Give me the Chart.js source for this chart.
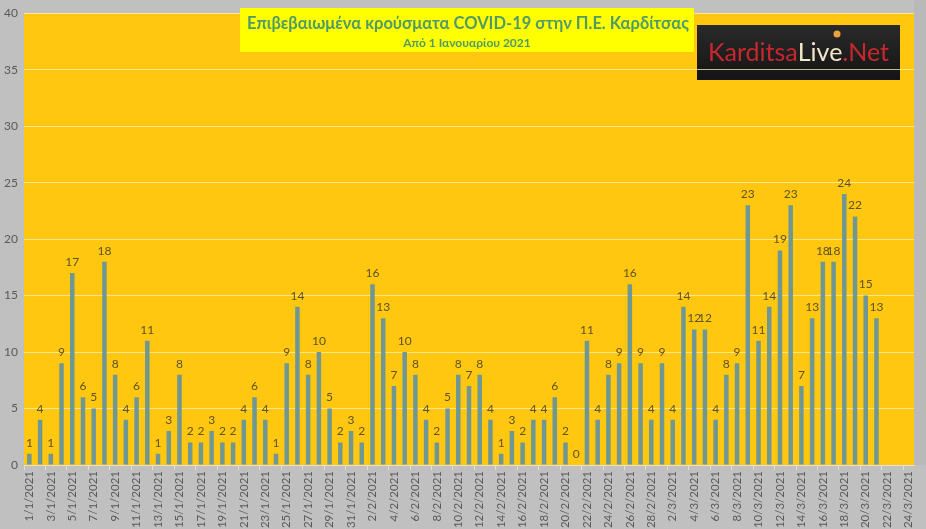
<!DOCTYPE html>
<html>
<head>
<meta charset="utf-8">
<script src="https://cdn.jsdelivr.net/npm/chart.js@4.4.0/dist/chart.umd.min.js"></script>
<style>
  html, body { margin: 0; padding: 0; background: #c0c0c0; }
  #wrap { width: 926px; height: 529px; }
</style>
</head>
<body>
<div id="wrap"><canvas id="grafico"></canvas></div>
<script>
// === DATOS ===
const fechas = [
  "1/1/2021","2/1/2021","3/1/2021","4/1/2021","5/1/2021","6/1/2021","7/1/2021","8/1/2021","9/1/2021","10/1/2021",
  "11/1/2021","12/1/2021","13/1/2021","14/1/2021","15/1/2021","16/1/2021","17/1/2021","18/1/2021","19/1/2021","20/1/2021",
  "21/1/2021","22/1/2021","23/1/2021","24/1/2021","25/1/2021","26/1/2021","27/1/2021","28/1/2021","29/1/2021","30/1/2021","31/1/2021",
  "1/2/2021","2/2/2021","3/2/2021","4/2/2021","5/2/2021","6/2/2021","7/2/2021","8/2/2021","9/2/2021","10/2/2021",
  "11/2/2021","12/2/2021","13/2/2021","14/2/2021","15/2/2021","16/2/2021","17/2/2021","18/2/2021","19/2/2021","20/2/2021",
  "21/2/2021","22/2/2021","23/2/2021","24/2/2021","25/2/2021","26/2/2021","27/2/2021","28/2/2021",
  "1/3/2021","2/3/2021","3/3/2021","4/3/2021","5/3/2021","6/3/2021","7/3/2021","8/3/2021","9/3/2021","10/3/2021",
  "11/3/2021","12/3/2021","13/3/2021","14/3/2021","15/3/2021","16/3/2021","17/3/2021","18/3/2021","19/3/2021","20/3/2021",
  "21/3/2021","22/3/2021","23/3/2021","24/3/2021"
];

const casosEnero = [1,4,1,9,17,6,5,18,8,4, 6,11,1,3,8,2,2,3,2,2, 4,6,4,1,9,14,8,10,5,2, 3];
const casosFebrero = [2,16,13,7,10,8,4,2,5,8, 7,8,4,1,3,2,4,4,6,2, 0,11,4,8,9,16,9,4];
const casosMarzo = [9,4,14,12,12,4,8,9,23,11, 14,19,23,7,13,18,18,24,22,15, 13,null,null,null];

const yTicks = [0,5,10,15,20,25,30,35,40];

const titulo = "Επιβεβαιωμένα κρούσματα COVID-19 στην Π.Ε. Καρδίτσας";
const subtitulo = "Από 1 Ιανουαρίου 2021";

const casos = casosEnero.concat(casosFebrero, casosMarzo);

const FUENTE = "Lato, 'Noto Sans', sans-serif";

// fondo del area y logo (antes de la grilla)
const fondoPlugin = {
  id: "fondo",
  beforeDraw(chart) {
    const { ctx, chartArea: a } = chart;
    ctx.save();
    ctx.fillStyle = "#c0c0c0";
    ctx.fillRect(0, 0, chart.width, chart.height);
    ctx.fillStyle = "#b9b9b9";
    ctx.fillRect(a.right, 0, chart.width - a.right, a.bottom);
    ctx.fillStyle = "#ffc70f";
    ctx.fillRect(a.left, a.top, a.right - a.left, a.bottom - a.top);

    // logo
    const g = ctx.createLinearGradient(0, 25, 0, 80);
    g.addColorStop(0, "#2a2a2a");
    g.addColorStop(1, "#141414");
    ctx.fillStyle = g;
    ctx.fillRect(697, 25, 203, 55);
    ctx.font = "25px " + FUENTE;
    ctx.textBaseline = "alphabetic";
    ctx.textAlign = "left";
    let x = 708;
    const partes = [["Karditsa", "#c8272e"], ["Live", "#f3e6c8"], [".Net", "#c8272e"]];
    partes.forEach(p => {
      ctx.fillStyle = p[1];
      ctx.fillText(p[0], x, 61);
      x += ctx.measureText(p[0]).width;
    });
    ctx.fillStyle = "#e8a33a";
    ctx.beginPath();
    ctx.arc(837, 34, 3.5, 0, Math.PI * 2);
    ctx.fill();
    ctx.restore();
  }
};

// etiquetas de valores y titulo
const etiquetasPlugin = {
  id: "etiquetas",
  afterDatasetsDraw(chart) {
    const { ctx } = chart;
    const meta = chart.getDatasetMeta(0);
    ctx.save();
    ctx.font = "12px " + FUENTE;
    ctx.fillStyle = "#5e5228";
    ctx.textAlign = "center";
    ctx.textBaseline = "bottom";
    meta.data.forEach((bar, i) => {
      const v = casos[i];
      if (v === null) return;
      ctx.fillText(String(v), bar.x, bar.y - 5);
    });
    ctx.restore();
  },
  afterDraw(chart) {
    const { ctx } = chart;
    ctx.save();
    ctx.fillStyle = "#ffff00";
    ctx.fillRect(240, 8, 454, 44);
    ctx.textAlign = "center";
    ctx.textBaseline = "alphabetic";
    ctx.fillStyle = "#4f9a67";
    // ajustar tamaño del titulo al ancho de la caja
    let size = 19;
    ctx.font = "bold " + size + "px " + FUENTE;
    while (ctx.measureText(titulo).width > 446 && size > 10) {
      size -= 0.5;
      ctx.font = "bold " + size + "px " + FUENTE;
    }
    ctx.fillText(titulo, 468, 29);
    ctx.font = "bold 12px " + FUENTE;
    ctx.fillText(subtitulo, 467, 47);
    ctx.restore();
  }
};

const ctx = document.getElementById("grafico").getContext("2d");
const grafico = new Chart(ctx, {
  type: "bar",
  data: {
    labels: fechas,
    datasets: [{
      label: "Κρούσματα",
      data: casos,
      backgroundColor: "#6f9894",
      barPercentage: 0.42,
      categoryPercentage: 1.0
    }]
  },
  options: {
    responsive: true,
    maintainAspectRatio: false,
    animation: false,
    devicePixelRatio: 1,
    layout: { padding: { top: 8, right: 12, left: 0, bottom: 0 } },
    plugins: {
      legend: { display: false },
      tooltip: { enabled: false }
    },
    scales: {
      x: {
        offset: true,
        grid: {
          display: true,
          offset: true,
          drawOnChartArea: false,
          tickLength: 5,
          color: (c) => (c.index % 2 === 0 ? "#e0e0e0" : "rgba(0,0,0,0)")
        },
        border: { display: true, color: "#e6e2d0" },
        ticks: {
          autoSkip: false,
          maxRotation: 90,
          minRotation: 90,
          padding: 1,
          color: "#595959",
          font: { family: FUENTE, size: 11.5 },
          callback: (val, i) => (i % 2 === 0 ? fechas[i] : "")
        },
        afterFit: (s) => { s.height = 64; }
      },
      y: {
        min: 0,
        max: 40,
        afterBuildTicks: (s) => { s.ticks = yTicks.map(v => ({ value: v })); },
        grid: {
          color: "rgba(255,240,190,0.75)",
          lineWidth: 1,
          drawTicks: false
        },
        border: { display: false },
        ticks: {
          padding: 6,
          color: "#595959",
          font: { family: FUENTE, size: 12 }
        },
        afterFit: (s) => { s.width = 24; }
      }
    }
  },
  plugins: [fondoPlugin, etiquetasPlugin]
});
</script>
</body>
</html>
